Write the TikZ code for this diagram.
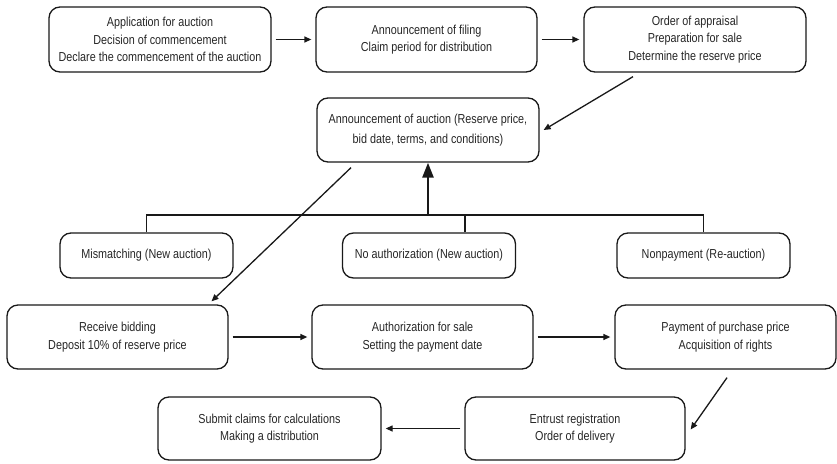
\documentclass[tikz,border=0pt]{standalone}
\usepackage{fontspec}
\setmainfont{Liberation Sans}[FakeStretch=0.83]
\usepackage{tikz}
\usetikzlibrary{arrows.meta}

\begin{document}
\begin{tikzpicture}[x=1pt,y=-1pt,
  stage/.style n args={2}{rectangle,draw=black!90,line width=1.3pt,rounded corners=11pt,
    minimum width=#1pt,minimum height=#2pt,align=center,text=black!85,inner sep=0pt,
    font=\fontsize{13}{17.5}\selectfont},
  arr/.style={draw=black!90,line width=1.3pt,-{Triangle[length=7pt,width=6pt]},shorten <=4pt,shorten >=4pt},
  bigarr/.style={draw=black!90,line width=2.6pt,-{Triangle[length=15pt,width=11pt]}},
  link/.style={draw=black!90,line width=1.3pt}]
\useasboundingbox (0,0) rectangle (837,463);
% first row
\node[stage={222}{65}] (apply) at (160,39.5) {Application for auction\\Decision of commencement\\Declare the commencement of the auction};
\node[stage={221}{65}] (filing) at (426.5,39.5) {Announcement of filing\\Claim period for distribution};
\node[stage={222}{65}] (appraisal) at (695,39.5) {Order of appraisal\\Preparation for sale\\Determine the reserve price};
\node[stage={222}{64}] (announce) at (428,130) {Announcement of auction (Reserve price,\\[2pt]bid date, terms, and conditions)};
% failed sales go back to a new announcement
\foreach \n/\x/\t in %
{mismatch/146.5/Mismatching (New auction),noauth/429/No authorization (New auction),nonpay/703.5/Nonpayment (Re-auction)} {
   \node[stage={173}{45}] (\n) at (\x,255.5) {\t};
}
% third row
\node[stage={221}{64}] (bidding) at (117.5,337) {Receive bidding\\Deposit 10\% of reserve price};
\node[stage={221}{64}] (authsale) at (422.5,337) {Authorization for sale\\Setting the payment date};
\node[stage={221}{64}] (payment) at (725.5,337) {Payment of purchase price\\Acquisition of rights};
\node[stage={220}{63}] (entrust) at (575,428.5) {Entrust registration\\Order of delivery};
\node[stage={223}{63}] (submit) at (269.5,428.5) {Submit claims for calculations\\Making a distribution};
\coordinate (bar) at (428,215);
\draw[arr] (apply) -- (filing);
\draw[arr] (filing) -- (appraisal);
\draw[arr,shorten <=0pt,shorten >=0pt] ([xshift=-62pt,yshift=-4pt]appraisal.south) -- ([xshift=4pt]announce.east);
\draw[link] (mismatch.north) -- (mismatch.north |- bar) -- (nonpay.north |- bar) -- (nonpay.north);
\draw[link] ([xshift=36pt]noauth.north) -- ([xshift=36pt]noauth.north |- bar);
\draw[bigarr] (bar) -- (announce.south);
\draw[arr,shorten <=0pt,shorten >=0pt] ([xshift=-77pt,yshift=-5pt]announce.south) -- ([xshift=94pt,yshift=3pt]bidding.north);
\draw[arr] (bidding) -- (authsale);
\draw[arr] (authsale) -- (payment);
\draw[arr,shorten <=0pt,shorten >=0pt] ([xshift=1.5pt,yshift=-8pt]payment.south) -- ([xshift=5pt,yshift=-1pt]entrust.east);
\draw[arr] (entrust) -- (submit);
\end{tikzpicture}
\end{document}
